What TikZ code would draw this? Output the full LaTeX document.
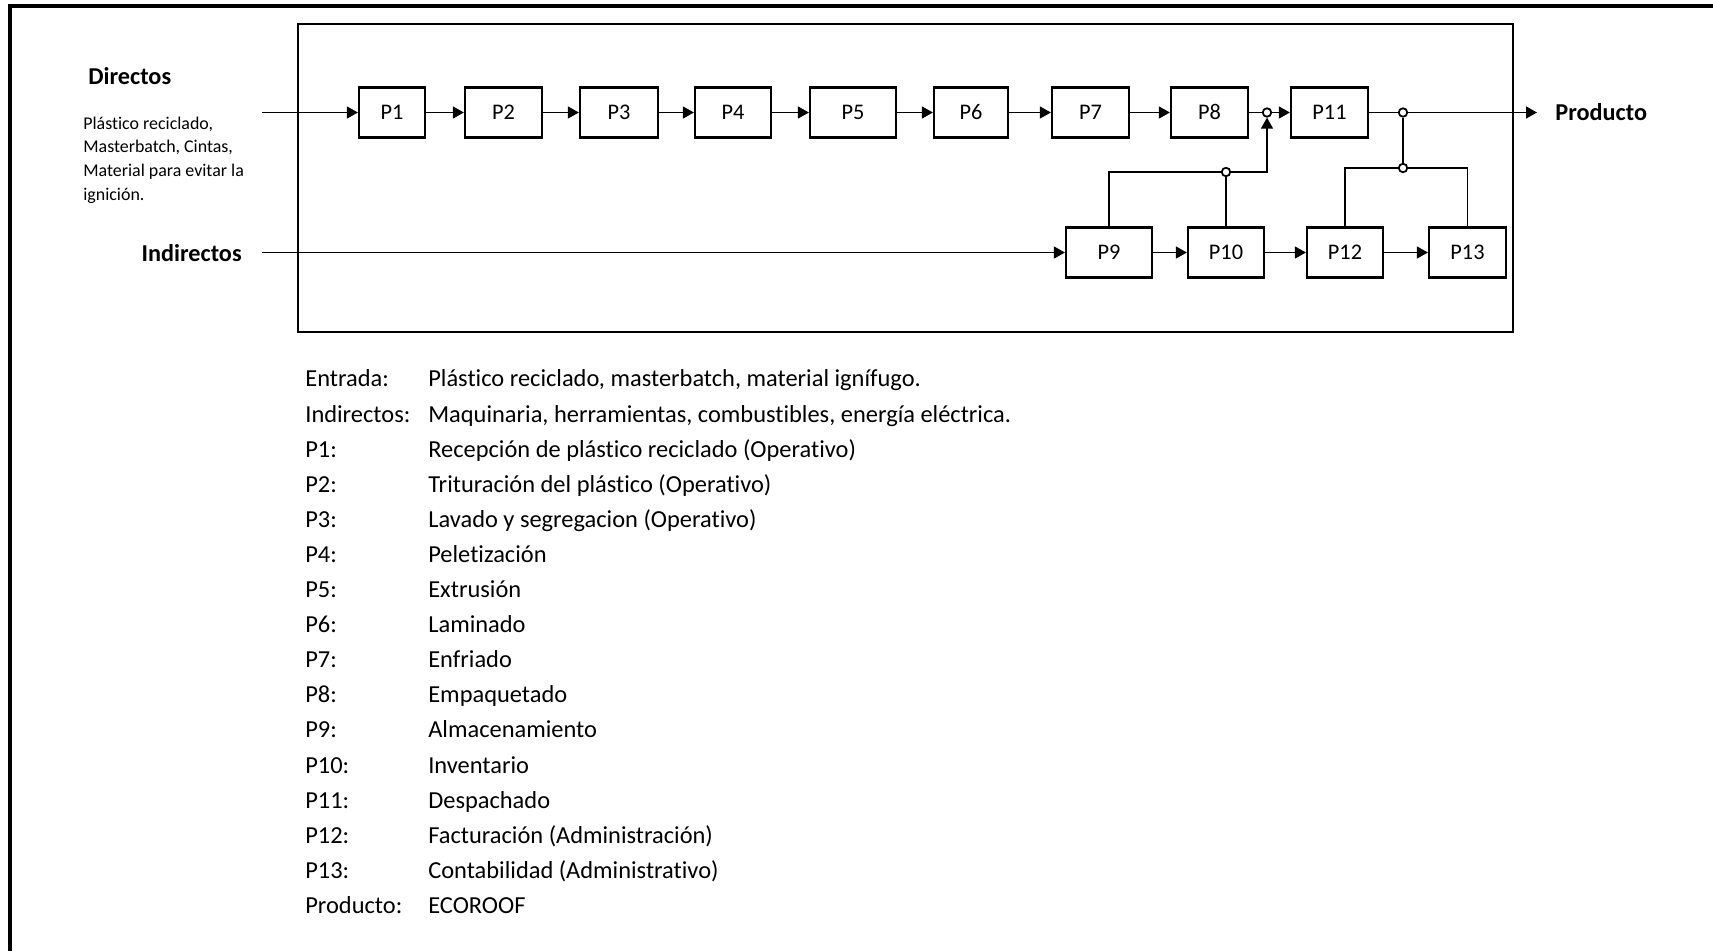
\documentclass[tikz,border=0pt]{standalone}
\usepackage{fontspec}
\setmainfont{Carlito}[Ligatures={NoCommon}]
\usetikzlibrary{arrows.meta}

\begin{document}
\begin{tikzpicture}[x=0.02cm, y=-0.02cm,
  proc/.style={draw, line width=1.3pt, inner sep=0pt, minimum height=1cm,
    text height=8.2pt, text depth=0pt, font=\fontsize{12.7}{15}\selectfont},
  junc/.style={circle, draw, fill=white, line width=1pt, inner sep=0pt, minimum size=0.17cm},
  flow/.style={line width=0.8pt, -{Triangle[length=0.22cm,width=0.24cm]}},
  link/.style={line width=0.8pt},
  side/.style={inner sep=0pt, text height=8.9pt, text depth=0pt,
    font=\bfseries\fontsize{13.8}{16}\selectfont},
  legend/.style={anchor=west, inner sep=0pt, text height=9pt, text depth=0pt,
    font=\fontsize{13.9}{17}\selectfont}]
  \useasboundingbox (0,0) rectangle (1713,951);

  % Page frame and process box
  \draw[line width=1.8pt] (10,951) -- (10,6) -- (1713,6);
  \draw[line width=1.5pt] (298,24) rectangle (1513,332);

  % Inputs
  \node[side, anchor=west] (directos) at (88,77) {Directos};
  \node[anchor=north west, align=left, inner sep=0pt, font=\fontsize{10.2}{13.6}\selectfont]
    (insumos) at (83,112) {\strut Plástico reciclado,\\ Masterbatch, Cintas,\\ Material para evitar la\\ ignición.};
  \node[side, anchor=east] (indirectos) at (242,254) {Indirectos};
  \coordinate (dIn) at (262,112.5);
  \coordinate (iIn) at (262,252.5);

  % Main line of processes
  \node[proc, minimum width=1.32cm] (p1) at (392,112.5) {P1};
  \node[proc, minimum width=1.54cm] (p2) at (503.5,112.5) {P2};
  \node[proc, minimum width=1.56cm] (p3) at (619,112.5) {P3};
  \node[proc, minimum width=1.52cm] (p4) at (733,112.5) {P4};
  \node[proc, minimum width=1.72cm] (p5) at (853,112.5) {P5};
  \node[proc, minimum width=1.48cm] (p6) at (971,112.5) {P6};
  \node[proc, minimum width=1.54cm] (p7) at (1090.5,112.5) {P7};
  \node[proc, minimum width=1.54cm] (p8) at (1209.5,112.5) {P8};
  \node[proc, minimum width=1.54cm] (p11) at (1329.5,112.5) {P11};

  % Support processes
  \node[proc, minimum width=1.72cm] (p9) at (1109,252.5) {P9};
  \node[proc, minimum width=1.52cm] (p10) at (1226,252.5) {P10};
  \node[proc, minimum width=1.52cm] (p12) at (1345,252.5) {P12};
  \node[proc, minimum width=1.54cm] (p13) at (1467.5,252.5) {P13};

  % Junctions
  \node[junc] (j1) at (1267,112.5) {};
  \node[junc] (j2) at (1403,112.5) {};
  \node[junc] (j3) at (1403,168) {};
  \node[junc] (j4) at (1226,172) {};

  % Output
  \node[side, anchor=west, inner xsep=0.36cm] (producto) at (1537,112.5) {Producto};

  % Flows
  \draw[flow] (dIn) -- (p1);
  \draw[flow] (p1) -- (p2);
  \draw[flow] (p2) -- (p3);
  \draw[flow] (p3) -- (p4);
  \draw[flow] (p4) -- (p5);
  \draw[flow] (p5) -- (p6);
  \draw[flow] (p6) -- (p7);
  \draw[flow] (p7) -- (p8);
  \draw[link] (p8) -- (j1);
  \draw[flow] (j1) -- (p11);
  \draw[link] (p11) -- (j2);
  \draw[flow] (j2) -- (producto);
  \draw[flow] (iIn) -- (p9);
  \draw[flow] (p9) -- (p10);
  \draw[flow] (p10) -- (p12);
  \draw[flow] (p12) -- (p13);
  \draw[link] (p9.north) |- (j4);
  \draw[link] (j4) -- (p10);
  \draw[flow] (j4) -| (j1);
  \draw[link] (p12.north) |- (j3) -| (p13.north);
  \draw[link] (j3) -- (j2);

  % Legend
  \node[legend] (lentrada) at (305,379) {\makebox[2.46cm][l]{Entrada:}Plástico reciclado, masterbatch, material ignífugo.};
  \node[legend] (lindirectos) at (305,414.1) {\makebox[2.46cm][l]{Indirectos:}Maquinaria, herramientas, combustibles, energía eléctrica.};
  \node[legend] (lp1) at (305,449.2) {\makebox[2.46cm][l]{P1:}Recepción de plástico reciclado (Operativo)};
  \node[legend] (lp2) at (305,484.3) {\makebox[2.46cm][l]{P2:}Trituración del plástico (Operativo)};
  \node[legend] (lp3) at (305,519.4) {\makebox[2.46cm][l]{P3:}Lavado y segregacion (Operativo)};
  \node[legend] (lp4) at (305,554.5) {\makebox[2.46cm][l]{P4:}Peletización};
  \node[legend] (lp5) at (305,589.6) {\makebox[2.46cm][l]{P5:}Extrusión};
  \node[legend] (lp6) at (305,624.7) {\makebox[2.46cm][l]{P6:}Laminado};
  \node[legend] (lp7) at (305,659.8) {\makebox[2.46cm][l]{P7:}Enfriado};
  \node[legend] (lp8) at (305,694.9) {\makebox[2.46cm][l]{P8:}Empaquetado};
  \node[legend] (lp9) at (305,730) {\makebox[2.46cm][l]{P9:}Almacenamiento};
  \node[legend] (lp10) at (305,765.1) {\makebox[2.46cm][l]{P10:}Inventario};
  \node[legend] (lp11) at (305,800.2) {\makebox[2.46cm][l]{P11:}Despachado};
  \node[legend] (lp12) at (305,835.3) {\makebox[2.46cm][l]{P12:}Facturación (Administración)};
  \node[legend] (lp13) at (305,870.4) {\makebox[2.46cm][l]{P13:}Contabilidad (Administrativo)};
  \node[legend] (lproducto) at (305,905.5) {\makebox[2.46cm][l]{Producto:}ECOROOF};
\end{tikzpicture}
\end{document}
